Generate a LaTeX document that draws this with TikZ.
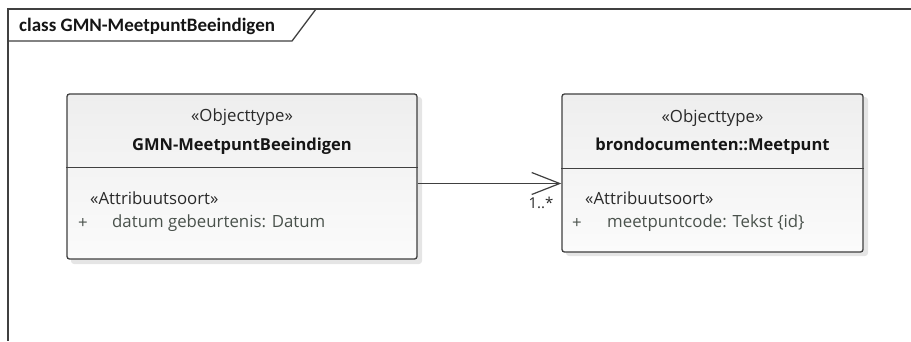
\documentclass[tikz,border=0pt]{standalone}
\usepackage{fontspec}
\setmainfont{Open Sans}
\newfontfamily\titlefont{Carlito}
\usetikzlibrary{arrows.meta,calc}
\definecolor{edge}{HTML}{404040}
\definecolor{txtdark}{HTML}{151515}
\definecolor{txtmid}{HTML}{2A2A2A}
\definecolor{txtattr}{HTML}{4A524C}
\definecolor{fillTop}{HTML}{EEEEEE}
\definecolor{fillBot}{HTML}{FBFBFB}
\tikzset{
  frameline/.style={draw=edge,line width=1.3pt},
  classbox/.style={draw=edge,line width=1.3pt,rounded corners=2.5pt,top color=fillTop,bottom color=fillBot,inner sep=0pt},
  divider/.style={draw=edge,line width=1pt},
  stereo/.style={font=\fontsize{16.8}{18}\selectfont,text=txtmid,inner sep=0pt},
  cname/.style={font=\fontsize{16.5}{18}\selectfont\bfseries,text=txtdark,inner sep=0pt},
  astereo/.style={font=\fontsize{16.8}{18}\selectfont,text=txtmid,inner sep=0pt,anchor=west},
  attr/.style={font=\fontsize{16.8}{18}\selectfont,text=txtattr,inner sep=0pt,anchor=west},
  assoc/.style={draw=edge,line width=1.2pt,-{Straight Barb[length=28pt,width=22pt,line width=1.2pt]}},
  mult/.style={font=\fontsize{15}{16}\selectfont,text=txtmid,inner sep=0pt},
}
\begin{document}
\begin{tikzpicture}[x=1pt,y=-1pt]
\useasboundingbox (0,0) rectangle (911,341);
\fill[white] (0,0) rectangle (911,341);
% frame
\draw[frameline] (911,9) -- (8,9) -- (8,341);
\draw[frameline] (8,41) -- (292,41) -- (316,9);
\node[font=\titlefont\bfseries\fontsize{19}{20}\selectfont,text=txtdark,anchor=west,inner sep=0pt] (title) at (19,26) {class GMN-MeetpuntBeeindigen};
% shadows
\fill[black,opacity=0.10,rounded corners=3pt] (71,97) rectangle (422,264);
\fill[black,opacity=0.10,rounded corners=3pt] (566,97) rectangle (868,256);
% left class
\node[classbox,minimum width=350pt,minimum height=165pt] (lbox) at (242,176.5) {};
\draw[divider] (lbox.west |- 0,167) -- (lbox.east |- 0,167);
\node[stereo] (lst) at (242,117) {«Objecttype»};
\node[cname] (lname) at (242,146) {GMN-MeetpuntBeeindigen};
\node[astereo] (last) at (90,198) {«Attribuutsoort»};
\node[attr] (lplus) at (78,223) {+};
\node[attr] (lattr) at (112,223) {datum gebeurtenis: Datum};
% right class
\node[classbox,minimum width=301pt,minimum height=158pt] (rbox) at (712.5,173) {};
\draw[divider] (rbox.west |- 0,168) -- (rbox.east |- 0,168);
\node[stereo] (rst) at (712.5,118) {«Objecttype»};
\node[cname] (rname) at (712.5,146) {brondocumenten::Meetpunt};
\node[astereo] (rast) at (585,198) {«Attribuutsoort»};
\node[attr] (rplus) at (572,223) {+};
\node[attr] (rattr) at (607,223) {meetpuntcode: Tekst \{id\}};
% association
\coordinate (ay) at (0,183.5);
\draw[assoc] (lbox.east |- ay) -- (rbox.west |- ay);
\node[mult] (m) at (541,203) {1..*};
\end{tikzpicture}
\end{document}
